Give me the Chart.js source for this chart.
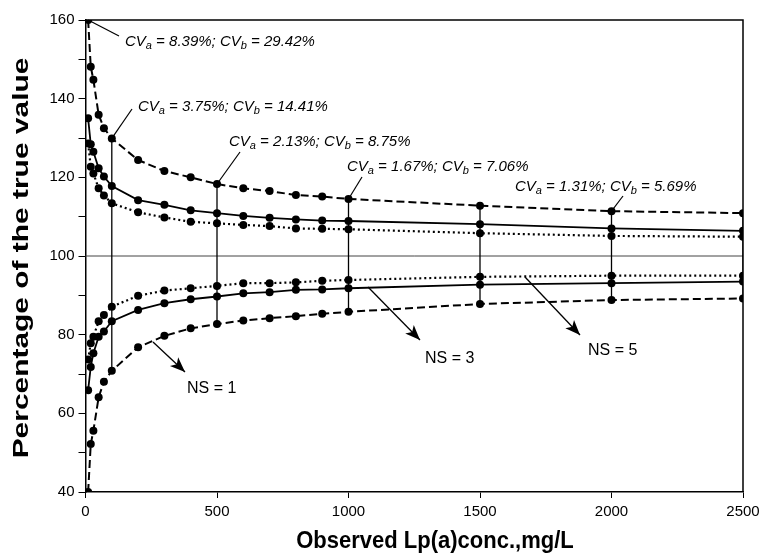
<!DOCTYPE html>
<html><head><meta charset="utf-8">
<script src="https://cdn.jsdelivr.net/npm/chart.js@4/dist/chart.umd.min.js"></script>
<style>html,body{margin:0;padding:0;background:#fff}#wrap{width:765px;height:559px}</style>
</head><body><div id="wrap"><canvas id="c" width="765" height="559"></canvas></div>
<script>
// ---------- data ----------
const concentrations = [10,20,30,50,70,100,200,300,400,500,600,700,800,900,1000,1500,2000,2500];
const ns1Upper = [160.0,148.1,144.8,135.9,132.5,129.9,124.4,121.6,120.0,118.3,117.2,116.5,115.5,115.1,114.5,112.8,111.4,110.9];
const ns1Lower = [40.0,52.2,55.6,64.1,68.0,70.8,76.8,79.7,81.6,82.7,83.6,84.2,84.7,85.3,85.8,87.8,88.8,89.2];
const ns3Upper = [135.0,128.4,126.5,122.3,120.2,117.8,114.2,113.0,111.6,110.9,110.2,109.7,109.3,109.0,108.9,108.1,107.0,106.4];
const ns3Lower = [65.9,71.8,75.3,79.5,80.8,83.4,86.3,88.0,89.0,89.7,90.5,90.8,91.4,91.5,91.8,92.7,93.1,93.5];
const ns5Upper = [128.6,122.7,121.0,117.2,115.4,113.4,111.1,109.8,108.7,108.3,107.9,107.6,107.0,106.9,106.8,105.8,105.1,104.9];
const ns5Lower = [73.7,77.8,79.5,83.4,85.0,87.1,89.9,91.2,91.8,92.4,93.1,93.1,93.3,93.7,93.9,94.7,95.0,95.0];
const barConcs = [100,500,1000,1500,2000,2500];
const cvConcs = [10,100,500,1000,2000];
const cvA = ['8.39%','3.75%','2.13%','1.67%','1.31%'];
const cvB = ['29.42%','14.41%','8.75%','7.06%','5.69%'];
const nsLabels = ['NS = 1','NS = 3','NS = 5'];
const xTickValues = [0,500,1000,1500,2000,2500];
const yTickValues = [40,60,80,100,120,140,160];
const refLine = 100;
const yTitle = 'Percentage of the true value';
const xTitle = 'Observed Lp(a)conc.,mg/L';

// ---------- layout (pixels) ----------
const cvTextPos = [[125,42],[138,107],[229,142],[347,167],[515,187]];
const cvLeaderEnd = [[119,36],[132,109],[240,152],[362,177],[623,196]];
const nsTextPos = [[187,389],[425,359],[588,351]];
const arrowStart = [[153,342],[368,287],[525,277]];
const arrowTip = [[185,372],[420,340],[580,335]];
const yTitlePos = [22,258];
const xTitlePos = [435,541];

const FF = "'Liberation Sans', Arial, Helvetica, sans-serif";

function pts(ys){ return concentrations.map((x,i)=>({x:x, y:ys[i]})); }
function bar(c){ const i = concentrations.indexOf(c); return [{x:c,y:ns1Lower[i]},{x:c,y:ns1Upper[i]}]; }

const dashed=[8,4], dotted=[2,3];
function curve(label, ys, dash, w){
  return {label, data:pts(ys), showLine:true, borderColor:'#000', borderWidth:w, borderDash:dash,
    pointRadius:4, pointBackgroundColor:'#000', pointBorderWidth:0, tension:0, fill:false};
}
const datasets = [
  curve('NS=1 upper', ns1Upper, dashed, 2),
  curve('NS=1 lower', ns1Lower, dashed, 2),
  curve('NS=3 upper', ns3Upper, [], 1.8),
  curve('NS=3 lower', ns3Lower, [], 1.8),
  curve('NS=5 upper', ns5Upper, dotted, 2.2),
  curve('NS=5 lower', ns5Lower, dotted, 2.2),
];
barConcs.forEach(c=>datasets.push({label:'range '+c, data:bar(c), showLine:true, borderColor:'#000', borderWidth:1.3, pointRadius:0}));

function arrow(ctx, x1,y1,x2,y2){
  ctx.beginPath(); ctx.moveTo(x1,y1); ctx.lineTo(x2,y2); ctx.stroke();
  const ang=Math.atan2(y2-y1,x2-x1), L=15, W=6;
  ctx.beginPath();
  ctx.moveTo(x2,y2);
  ctx.lineTo(x2-L*Math.cos(ang)+W*Math.sin(ang), y2-L*Math.sin(ang)-W*Math.cos(ang));
  ctx.lineTo(x2-L*Math.cos(ang)*0.75, y2-L*Math.sin(ang)*0.75);
  ctx.lineTo(x2-L*Math.cos(ang)-W*Math.sin(ang), y2-L*Math.sin(ang)+W*Math.cos(ang));
  ctx.closePath(); ctx.fill();
}
function cvText(ctx, x, y, a, b){
  const big = 'italic 15px '+FF, small = 'italic 11px '+FF;
  ctx.textBaseline='middle'; ctx.textAlign='left';
  const parts = [['CV',big,0],['a',small,4],[' = '+a+'; CV',big,0],['b',small,4],[' = '+b,big,0]];
  let cx=x;
  parts.forEach(p=>{ ctx.font=p[1]; ctx.fillText(p[0], cx, y+p[2]); cx+=ctx.measureText(p[0]).width; });
}

const deco = {
  id:'deco',
  beforeDatasetsDraw(chart){
    const {ctx, chartArea:a, scales} = chart;
    const py = scales.y.getPixelForValue(refLine);
    ctx.save(); ctx.strokeStyle='#444'; ctx.lineWidth=1;
    ctx.beginPath(); ctx.moveTo(a.left,py); ctx.lineTo(a.right,py); ctx.stroke();
    ctx.restore();
  },
  afterDatasetsDraw(chart){
    const {ctx, chartArea:a, scales} = chart;
    ctx.save();
    ctx.strokeStyle='#000'; ctx.fillStyle='#000'; ctx.lineWidth=1.5;
    ctx.beginPath(); ctx.moveTo(a.left,a.top); ctx.lineTo(a.right,a.top); ctx.lineTo(a.right,a.bottom); ctx.stroke();
    ctx.lineWidth=1.2;
    cvConcs.forEach((c,k)=>{
      const i = concentrations.indexOf(c);
      const x0 = scales.x.getPixelForValue(c), y0 = scales.y.getPixelForValue(ns1Upper[i]);
      ctx.beginPath(); ctx.moveTo(x0,y0); ctx.lineTo(cvLeaderEnd[k][0], cvLeaderEnd[k][1]); ctx.stroke();
      cvText(ctx, cvTextPos[k][0], cvTextPos[k][1], cvA[k], cvB[k]);
    });
    ctx.lineWidth=1.3;
    nsLabels.forEach((t,k)=>{
      arrow(ctx, arrowStart[k][0], arrowStart[k][1], arrowTip[k][0], arrowTip[k][1]);
      ctx.font='16px '+FF; ctx.textAlign='left'; ctx.textBaseline='middle';
      ctx.fillText(t, nsTextPos[k][0], nsTextPos[k][1]);
    });
    ctx.font='bold 22px '+FF; ctx.textAlign='center'; ctx.textBaseline='middle';
    // x axis title
    ctx.save();
    ctx.translate(xTitlePos[0], xTitlePos[1]);
    ctx.scale(1,1.12);
    ctx.fillText(xTitle, 0, 0);
    ctx.restore();
    // y axis title (tall, condensed look of the original)
    ctx.translate(yTitlePos[0], yTitlePos[1]);
    ctx.rotate(-Math.PI/2);
    ctx.scale(1.36,1);
    ctx.fillText(yTitle, 0, 0);
    ctx.restore();
  }
};

new Chart(document.getElementById('c'), {
  type:'scatter',
  data:{datasets},
  options:{
    responsive:false, animation:false, devicePixelRatio:1,
    layout:{padding:{left:0,right:22,top:20,bottom:0}},
    plugins:{legend:{display:false}, tooltip:{enabled:false}},
    scales:{
      x:{type:'linear', min:0, max:2500,
        afterFit(s){ s.height=67; },
        border:{display:true,color:'#000',width:1.5},
        grid:{display:true, drawOnChartArea:false, drawTicks:true, tickLength:6, tickColor:'#000'},
        ticks:{stepSize:500, color:'#000', font:{family:FF,size:15}, padding:5, maxRotation:0,
          callback:(v)=> xTickValues.includes(v) ? String(v) : ''},
        title:{display:false, text:xTitle}
      },
      y:{type:'linear', min:40, max:160,
        afterFit(s){ s.width=85.5; },
        border:{display:true,color:'#000',width:1.5},
        grid:{display:true, drawOnChartArea:false, drawTicks:true, tickLength:7, tickColor:'#000'},
        ticks:{stepSize:10, color:'#000', font:{family:FF,size:15}, padding:4,
          callback:(v)=> yTickValues.includes(v) ? String(v) : ''},
        title:{display:false, text:yTitle}
      }
    }
  },
  plugins:[deco]
});
</script></body></html>
